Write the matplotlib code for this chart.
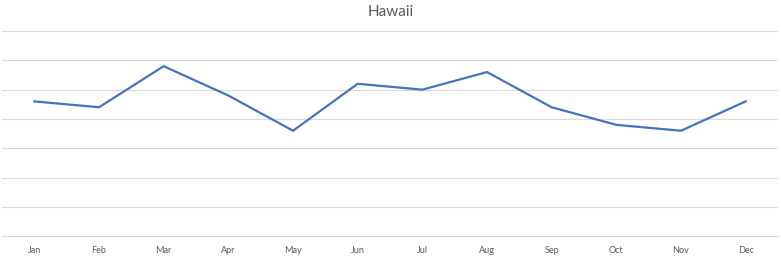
import matplotlib
matplotlib.use("Agg")
import matplotlib.pyplot as plt

# Monthly values (gridlines every 10 units)
months = ['Jan', 'Feb', 'Mar', 'Apr', 'May', 'Jun',
          'Jul', 'Aug', 'Sep', 'Oct', 'Nov', 'Dec']
values = [46, 44, 58, 48, 36, 52, 50, 56, 44, 38, 36, 46]
y_ticks = [0, 10, 20, 30, 40, 50, 60, 70]

plt.rcParams['font.family'] = ['Lato', 'DejaVu Sans']

fig = plt.figure(figsize=(7.81, 2.56), dpi=100)
ax = fig.add_axes([2 / 781, 19.7 / 256, 776 / 781, 205.3 / 256])

ax.plot(range(len(months)), values, color='#4472C4', linewidth=1.6,
        solid_joinstyle='miter', zorder=3)

ax.set_xlim(-0.5, len(months) - 0.5)
ax.set_ylim(0, 70)
ax.set_yticks(y_ticks)
ax.set_yticklabels([])
ax.set_xticks(range(len(months)))
ax.set_xticklabels(months)
ax.tick_params(axis='both', length=0)
ax.tick_params(axis='x', labelsize=6.5, labelcolor='#595959', pad=7)
ax.grid(axis='y', color='#D9D9D9', linewidth=0.8)
for side in ['left', 'right', 'top']:
    ax.spines[side].set_visible(False)
ax.spines['bottom'].set_color('#D9D9D9')
ax.spines['bottom'].set_linewidth(0.8)

fig.text(0.5, 1 - 12 / 256, 'Hawaii', ha='center', va='center',
         fontsize=11, color='#595959')

fig.savefig('out.png', dpi=100, facecolor='white')
